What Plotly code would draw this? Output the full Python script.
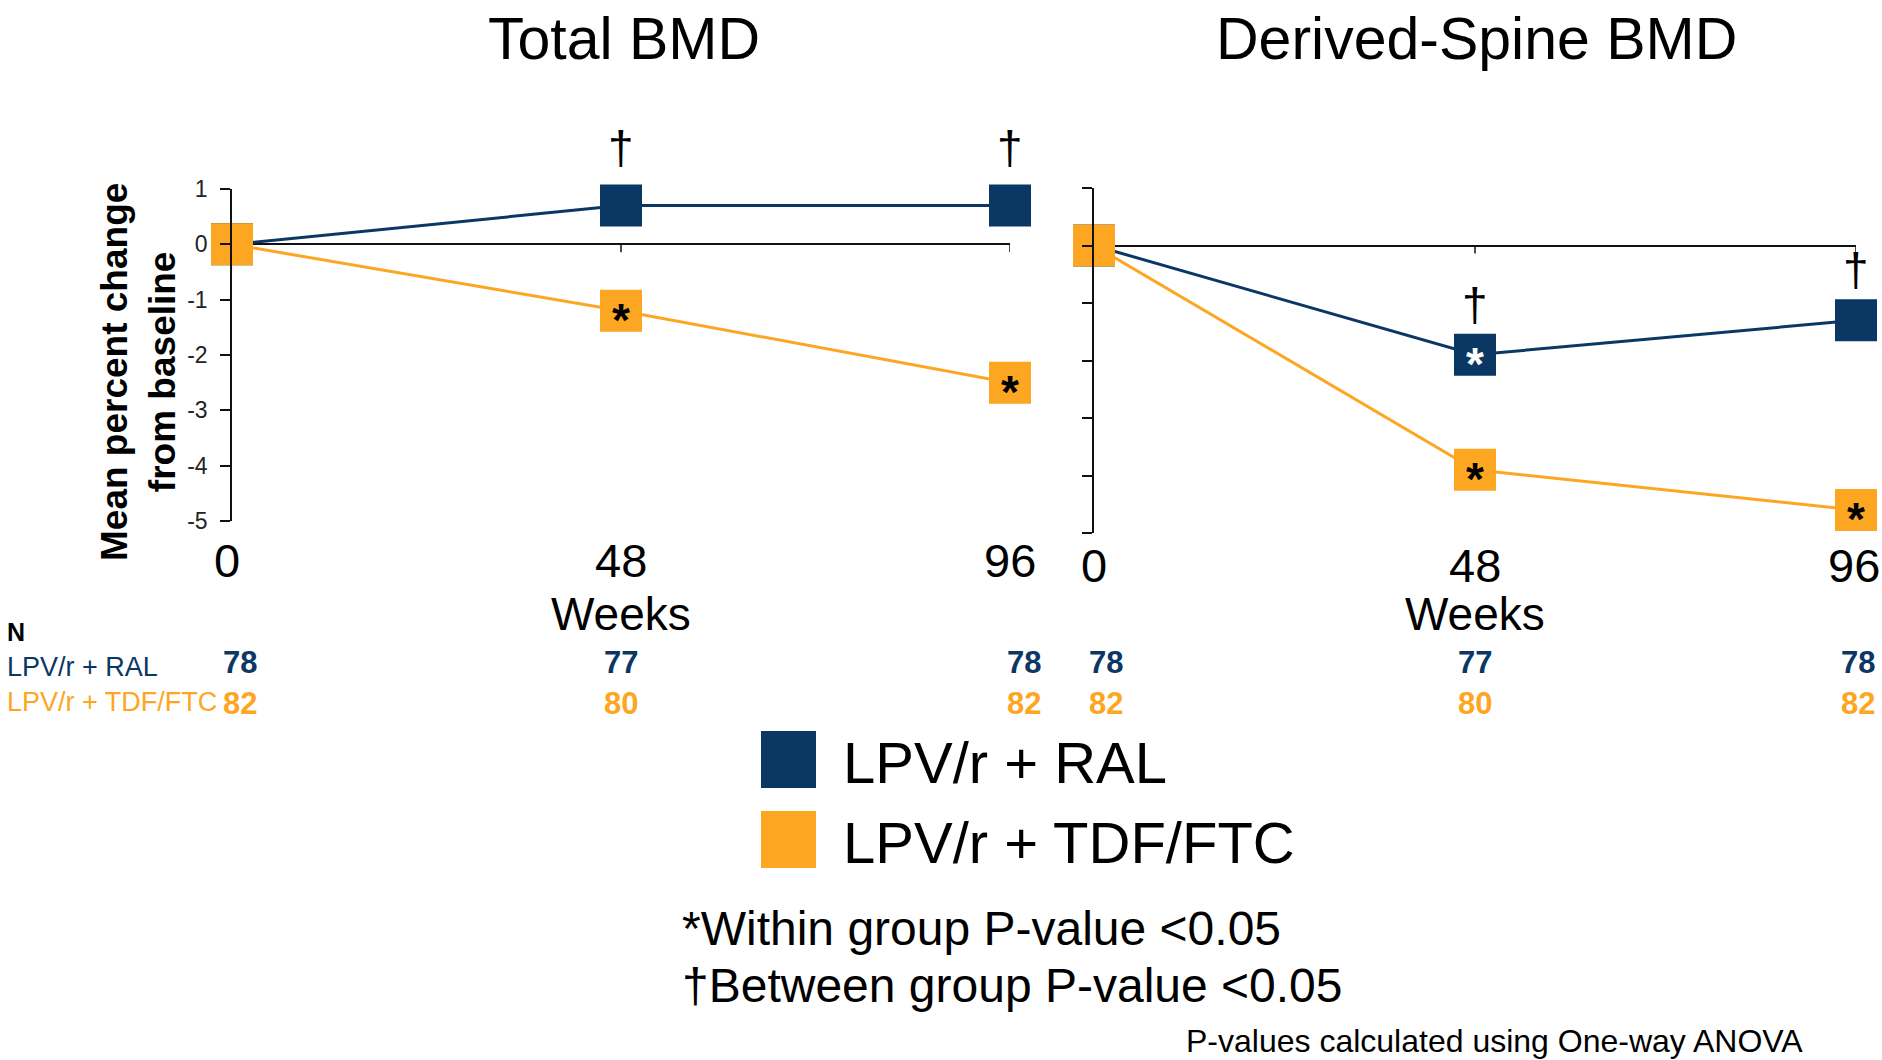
import plotly.graph_objects as go

W, H = 1882, 1060

# ---------------- data ----------------
weeks = [0, 48, 96]
week_labels = ["0", "48", "96"]
groups = ["LPV/r + RAL", "LPV/r + TDF/FTC"]
panel_titles = ["Total BMD", "Derived-Spine BMD"]

total_ral = [0.0, 0.7, 0.7]
total_tdf = [0.0, -1.2, -2.5]
spine_ral = [0.0, -1.9, -1.3]
spine_tdf = [0.0, -3.9, -4.6]

n_ral = [78, 77, 78]
n_tdf = [82, 80, 82]

total_within_ral = [False, False, False]
total_within_tdf = [False, True, True]
spine_within_ral = [False, True, False]
spine_within_tdf = [False, True, True]
total_between = [False, True, True]
spine_between = [False, True, True]

y_ticks = [1, 0, -1, -2, -3, -4, -5]

footnote_within = "*Within group P-value <0.05"
footnote_between = "†Between group P-value <0.05"
footnote_method = "P-values calculated using One-way ANOVA"
y_title = "Mean percent change<br>from baseline"

# ---------------- style ----------------
NAVY = "#0B3765"
ORANGE = "#FDA622"
FONT = "Liberation Sans, Arial, sans-serif"


def px(x):
    return x / W


def py(y):
    return 1 - y / H


fig = go.Figure()

panels = [
    dict(xa="x", ya="y", xname="xaxis", yname="yaxis", dom_x=(232, 1010), dom_y=(521, 189),
         ral=total_ral, tdf=total_tdf, w_ral=total_within_ral, w_tdf=total_within_tdf,
         between=total_between, title=panel_titles[0], tick_y=560, show_ylabels=True,
         n_shift=[8, 0, 14], tick_shift=[-5, 0, 0], dag_shift=58, title_x=624),
    dict(xa="x2", ya="y2", xname="xaxis2", yname="yaxis2", dom_x=(1094, 1856), dom_y=(533, 188),
         ral=spine_ral, tdf=spine_tdf, w_ral=spine_within_ral, w_tdf=spine_within_tdf,
         between=spine_between, title=panel_titles[1], tick_y=565, show_ylabels=False,
         n_shift=[12, 0, 2], tick_shift=[0, 0, -2], dag_shift=50, title_x=1476),
]

annotations = []
shapes = []
layout_axes = {}

for p in panels:
    for vals, color, name in [(p["ral"], NAVY, groups[0]), (p["tdf"], ORANGE, groups[1])]:
        fig.add_trace(go.Scatter(
            x=weeks, y=vals, xaxis=p["xa"], yaxis=p["ya"], name=name,
            mode="lines+markers",
            line=dict(color=color, width=3),
            marker=dict(symbol="square", size=42, color=color),
            cliponaxis=False, showlegend=False, hoverinfo="skip",
        ))

    layout_axes[p["xname"]] = dict(
        domain=[px(p["dom_x"][0]), px(p["dom_x"][1])], range=[0, 96],
        anchor=p["ya"], showline=False, showgrid=False, zeroline=False,
        showticklabels=False, ticks="", automargin=False,
    )
    layout_axes[p["yname"]] = dict(
        domain=[py(p["dom_y"][0]), py(p["dom_y"][1])], range=[-5, 1],
        anchor=p["xa"], showline=True, linecolor="#111", linewidth=1.5,
        ticks="outside", ticklen=10, tickwidth=1.5, tickcolor="#111",
        tickvals=y_ticks, ticktext=[str(v) for v in y_ticks],
        showticklabels=p["show_ylabels"], ticklabelstandoff=8,
        tickfont=dict(size=23, color="#222", family=FONT),
        showgrid=False, zeroline=True, zerolinecolor="#111", zerolinewidth=1.5,
        automargin=False,
    )

    # small x tick marks hanging from the zero line
    for wk in weeks[1:]:
        shapes.append(dict(type="line", xref=p["xa"], yref=p["ya"], x0=wk, x1=wk,
                           ysizemode="pixel", yanchor=0, y0=0, y1=-8,
                           line=dict(color="#111", width=1.5)))

    # x tick labels
    for i, (wk, lab) in enumerate(zip(weeks, week_labels)):
        annotations.append(dict(x=wk, xref=p["xa"], y=py(p["tick_y"]), yref="paper",
                                xshift=p["tick_shift"][i],
                                text=lab, showarrow=False, xanchor="center", yanchor="middle",
                                font=dict(size=47, color="#000", family=FONT)))
    # axis title
    annotations.append(dict(x=0.5, xref=p["xa"] + " domain", y=py(614), yref="paper",
                            text="Weeks", showarrow=False, xanchor="center", yanchor="middle",
                            font=dict(size=46, color="#000", family=FONT)))
    # panel title
    annotations.append(dict(x=px(p["title_x"]), xref="paper", y=py(39), yref="paper",
                            text=p["title"], showarrow=False, xanchor="center", yanchor="middle",
                            font=dict(size=59, color="#000", family=FONT)))

    # within-group asterisks
    for vals, flags, col in [(p["ral"], p["w_ral"], "#FFFFFF"), (p["tdf"], p["w_tdf"], "#000000")]:
        for wk, v, f in zip(weeks, vals, flags):
            if f:
                annotations.append(dict(x=wk, xref=p["xa"], y=v, yref=p["ya"],
                                        text="<b>*</b>", showarrow=False,
                                        xanchor="center", yanchor="middle", yshift=-9,
                                        font=dict(size=46, color=col, family=FONT)))
    # between-group daggers
    for wk, v, f in zip(weeks, p["ral"], p["between"]):
        if f:
            annotations.append(dict(x=wk, xref=p["xa"], y=v, yref=p["ya"],
                                    text="†", showarrow=False,
                                    xanchor="center", yanchor="middle", yshift=p["dag_shift"],
                                    font=dict(size=46, color="#000", family=FONT)))

    # N numbers
    for i, wk in enumerate(weeks):
        for nvals, col, yy in [(n_ral, NAVY, 662), (n_tdf, ORANGE, 703)]:
            annotations.append(dict(x=wk, xref=p["xa"], y=py(yy), yref="paper",
                                    xshift=p["n_shift"][i],
                                    text=f"<b>{nvals[i]}</b>", showarrow=False,
                                    xanchor="center", yanchor="middle",
                                    font=dict(size=31, color=col, family=FONT)))

# N table row labels
annotations.append(dict(x=px(5), y=py(632), xref="paper", yref="paper", text="<b>N</b>",
                        showarrow=False, xanchor="left", yanchor="middle",
                        font=dict(size=25, color="#000", family=FONT)))
for lab, col, yy in [(groups[0], NAVY, 667), (groups[1], ORANGE, 702)]:
    annotations.append(dict(x=px(5), y=py(yy), xref="paper", yref="paper", text=lab,
                            showarrow=False, xanchor="left", yanchor="middle",
                            font=dict(size=27, color=col, family=FONT)))

# y axis title
annotations.append(dict(x=px(139), y=py(372), xref="paper", yref="paper",
                        text=f"<b>{y_title}</b>", textangle=-90, showarrow=False,
                        xanchor="center", yanchor="middle",
                        font=dict(size=37, color="#000", family=FONT)))

# manual legend
for lab, col, (top, bot) in [(groups[0], NAVY, (731, 788)), (groups[1], ORANGE, (811, 868))]:
    shapes.append(dict(type="rect", xref="paper", yref="paper",
                       x0=px(761), x1=px(816), y0=py(bot), y1=py(top),
                       fillcolor=col, line=dict(width=0)))
    annotations.append(dict(x=px(841), y=py((top + bot) / 2 + 3), xref="paper", yref="paper",
                            text=lab, showarrow=False, xanchor="left", yanchor="middle",
                            font=dict(size=58, color="#000", family=FONT)))

# footnotes
annotations.append(dict(x=px(680), y=py(928), xref="paper", yref="paper", text=footnote_within,
                        showarrow=False, xanchor="left", yanchor="middle",
                        font=dict(size=48, color="#000", family=FONT)))
annotations.append(dict(x=px(680), y=py(985), xref="paper", yref="paper", text=footnote_between,
                        showarrow=False, xanchor="left", yanchor="middle",
                        font=dict(size=48, color="#000", family=FONT)))
annotations.append(dict(x=px(1805), y=py(1041), xref="paper", yref="paper", text=footnote_method,
                        showarrow=False, xanchor="right", yanchor="middle",
                        font=dict(size=32, color="#000", family=FONT)))

fig.update_layout(
    width=W, height=H,
    margin=dict(l=0, r=0, t=0, b=0, pad=0, autoexpand=False),
    paper_bgcolor="white", plot_bgcolor="white",
    font=dict(family=FONT),
    showlegend=False,
    annotations=annotations,
    shapes=shapes,
    **layout_axes,
)

fig.write_html(
    "out.html",
    config={"displayModeBar": False},
    post_script="document.body.style.margin='0';",
)
